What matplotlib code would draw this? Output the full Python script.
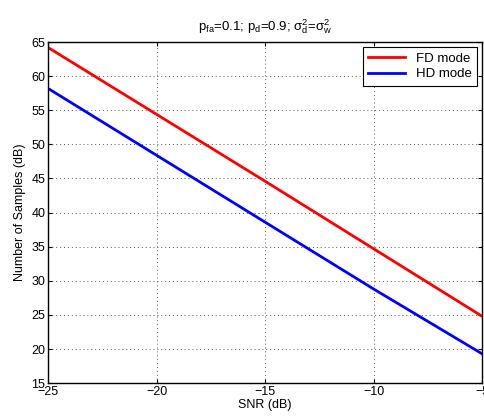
import numpy as np
import matplotlib
matplotlib.use("Agg")
import matplotlib.pyplot as plt

plt.rcParams['font.family'] = ['Liberation Sans', 'DejaVu Sans']
plt.rcParams['mathtext.fontset'] = 'custom'
plt.rcParams['mathtext.rm'] = 'Liberation Sans'
plt.rcParams['mathtext.it'] = 'Liberation Sans'
plt.rcParams['mathtext.default'] = 'regular'

snr = [-25, -20, -15, -10, -5]
fd_mode = [64.2, 54.4, 44.6, 34.7, 24.8]
hd_mode = [58.2, 48.4, 38.6, 28.8, 19.3]

fig = plt.figure(figsize=(4.85, 4.16), dpi=100)
ax = fig.add_axes([0.099, 0.079, 0.895, 0.82])

ax.plot(snr, fd_mode, color='red', linewidth=2, label='FD mode')
ax.plot(snr, hd_mode, color='blue', linewidth=2, label='HD mode')

ax.set_xlim(-25, -5)
ax.set_ylim(15, 65)
ax.set_xticks([-25, -20, -15, -10, -5])
ax.set_yticks(range(15, 66, 5))
ax.set_xticklabels(['\u221225', '\u221220', '\u221215', '\u221210', '\u22125'])
ax.tick_params(direction='in', top=True, right=True, labelsize=9, length=3, pad=2)
ax.grid(True, linestyle=(0, (1, 3)), color='#555555', linewidth=0.7)
for s in ax.spines.values():
    s.set_linewidth(1.0)

ax.set_xlabel('SNR (dB)', fontsize=9, labelpad=1)
ax.set_ylabel('Number of Samples (dB)', fontsize=9, labelpad=4)
ax.set_title(r'$p_{fa}$=0.1; $p_d$=0.9; $\sigma_d^2$=$\sigma_w^2$', fontsize=9.5, pad=8)

leg = ax.legend(loc='upper right', fontsize=9.5, fancybox=False, framealpha=1,
                edgecolor='black', borderaxespad=0.4, handlelength=2.8,
                labelspacing=0.25, borderpad=0.4)
leg.get_frame().set_linewidth(0.8)

fig.savefig('out.png', dpi=100)
